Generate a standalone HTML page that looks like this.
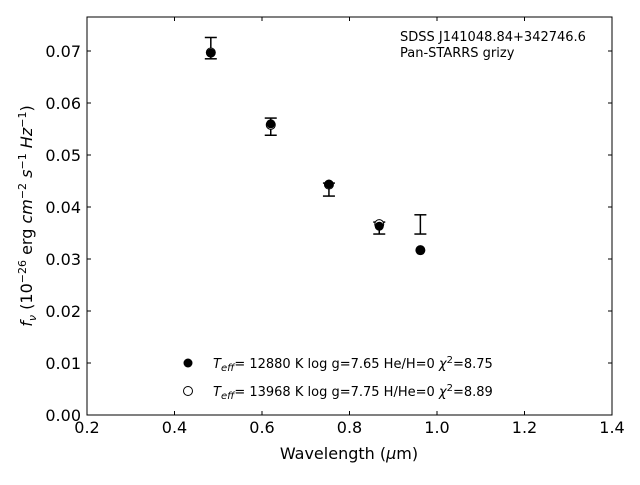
<!DOCTYPE html>
<html><head><meta charset="utf-8"><style>
body{margin:0;background:#fff;font-family:"Liberation Sans","DejaVu Sans",sans-serif}
svg text{font-family:"DejaVu Sans","Liberation Sans",sans-serif}
</style></head><body>
<svg id="chart" width="640" height="480" xmlns="http://www.w3.org/2000/svg">
<rect x="87" y="17" width="525" height="398" fill="#fff" stroke="#000" stroke-width="1"/>
<g id="axes"></g><g id="marks"></g>
<text x="400" y="41" font-size="13">SDSS J141048.84+342746.6</text>
<text x="400" y="57" font-size="13">Pan-STARRS grizy</text>
<text x="349" y="459" font-size="16" text-anchor="middle">Wavelength (<tspan font-style="italic">μ</tspan>m)</text>
<text transform="translate(32,216) rotate(-90)" font-size="16" text-anchor="middle"><tspan font-style="italic">f<tspan font-size="11" dy="4">ν</tspan></tspan><tspan dy="-4"> (10</tspan><tspan font-size="11" dy="-6">−26</tspan><tspan dy="6"> erg </tspan><tspan font-style="italic">cm</tspan><tspan font-size="11" dy="-6">−2</tspan><tspan dy="6"> </tspan><tspan font-style="italic">s</tspan><tspan font-size="11" dy="-6">−1</tspan><tspan dy="6"> </tspan><tspan font-style="italic">Hz</tspan><tspan font-size="11" dy="-6">−1</tspan><tspan dy="6">)</tspan></text>
<g>
<circle cx="188" cy="363" r="4.5" fill="#000"/>
<text x="213" y="368" font-size="13"><tspan font-style="italic">T<tspan font-size="10" dy="3">eff</tspan></tspan><tspan dy="-3">= 12880 K  log g=7.65  He/H=0  </tspan><tspan font-style="italic">χ</tspan><tspan font-size="10" dy="-5">2</tspan><tspan dy="5">=8.75</tspan></text>
<circle cx="188" cy="391" r="4.5" fill="#fff" stroke="#000"/>
<text x="213" y="396" font-size="13"><tspan font-style="italic">T<tspan font-size="10" dy="3">eff</tspan></tspan><tspan dy="-3">= 13968 K  log g=7.75  H/He=0  </tspan><tspan font-style="italic">χ</tspan><tspan font-size="10" dy="-5">2</tspan><tspan dy="5">=8.89</tspan></text>
</g>
</svg>
<script>
const wavelengths=[0.483,0.620,0.753,0.868,0.962];
const obsLow=[0.0685,0.0538,0.0421,0.0348,0.0348];
const obsHigh=[0.0726,0.0571,0.0446,0.0371,0.0385];
const model1=[0.0696,0.0560,0.0444,0.0363,0.0317];
const model2=[0.0697,0.0558,0.0443,0.0367,0.0317];
const xTicks=[0.2,0.4,0.6,0.8,1.0,1.2,1.4];
const yTicks=[0,0.01,0.02,0.03,0.04,0.05,0.06,0.07];
const NS="http://www.w3.org/2000/svg";
const X=v=>87+(v-0.2)*437.5;
const Y=v=>415-v*5200;
function mk(t,a,p){const e=document.createElementNS(NS,t);for(const k in a)e.setAttribute(k,a[k]);p.appendChild(e);return e;}
const ax=document.getElementById('axes'),mg=document.getElementById('marks');
xTicks.forEach(v=>{
const l=mk('line',{x1:X(v),x2:X(v),y1:415,y2:411,stroke:'#000'},ax);


const l2=mk('line',{x1:X(v),x2:X(v),y1:17,y2:21,stroke:'#000'},ax);


const t=mk('text',{x:X(v),y:433,'font-size':16,'text-anchor':'middle'},ax);t.textContent=v.toFixed(1);


});
yTicks.forEach(v=>{
const l=mk('line',{x1:87,x2:91,y1:Y(v),y2:Y(v),stroke:'#000'},ax);


const l2=mk('line',{x1:612,x2:608,y1:Y(v),y2:Y(v),stroke:'#000'},ax);


const t=mk('text',{x:81,y:Y(v)+6,'font-size':16,'text-anchor':'end'},ax);t.textContent=v.toFixed(2);


});
wavelengths.forEach((w,i)=>{
const x=X(w);
const g=mk('g',{stroke:'#000','stroke-width':1.5},mg);


mk('line',{x1:x,x2:x,y1:Y(obsLow[i]),y2:Y(obsHigh[i])},g);
mk('line',{x1:x-6,x2:x+6,y1:Y(obsLow[i]),y2:Y(obsLow[i])},g);
mk('line',{x1:x-6,x2:x+6,y1:Y(obsHigh[i]),y2:Y(obsHigh[i])},g);
const o=mk('circle',{cx:x,cy:Y(model2[i]),r:4.5,fill:'#fff',stroke:'#000'},mg);


const f=mk('circle',{cx:x,cy:Y(model1[i]),r:4.5,fill:'#000'},mg);


});
</script>
</body></html>
